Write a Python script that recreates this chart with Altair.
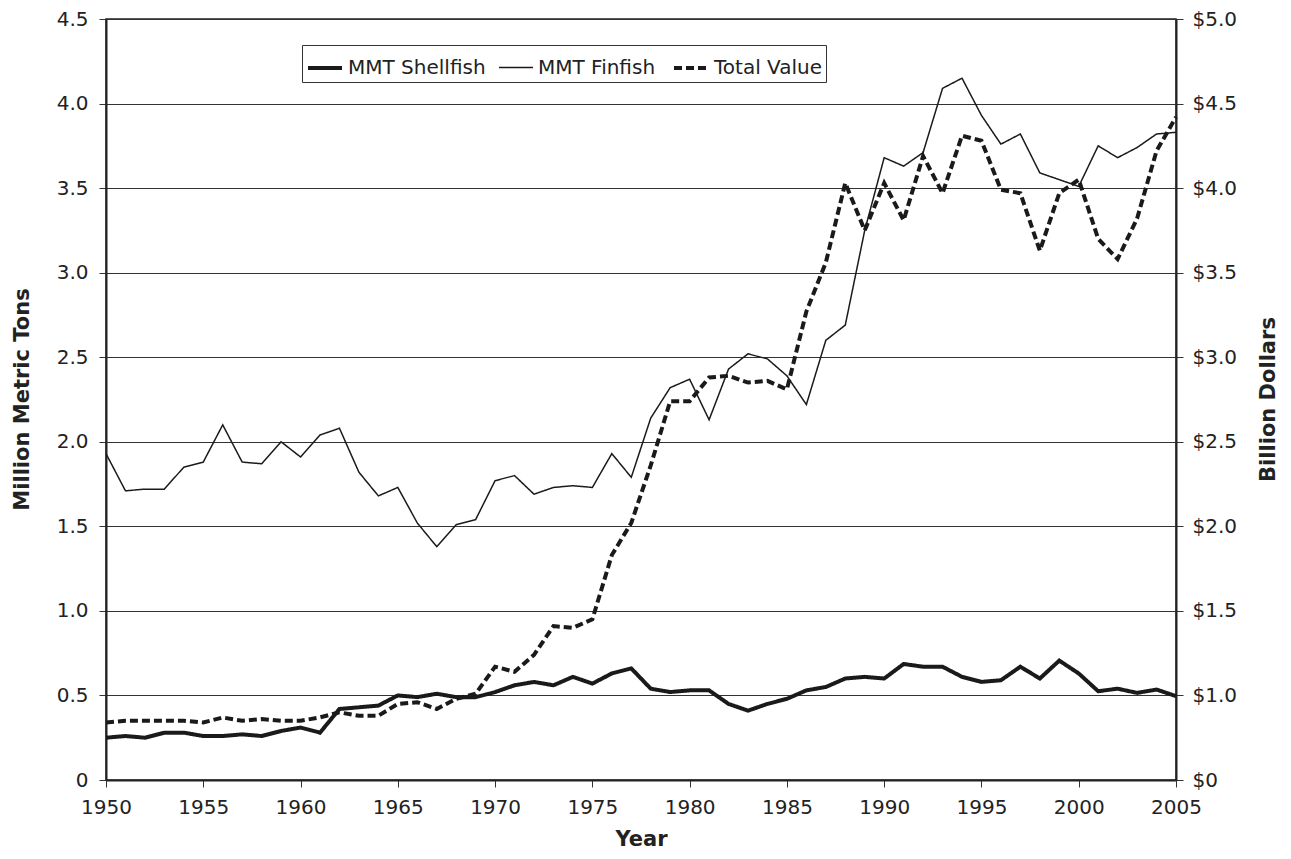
import altair as alt
import pandas as pd

years = list(range(1950, 2006))

# Million metric tons, shellfish (left axis)
shellfish = [0.25, 0.26, 0.25, 0.28, 0.28, 0.26, 0.26, 0.27, 0.26, 0.29,
             0.31, 0.28, 0.42, 0.43, 0.44, 0.50, 0.49, 0.51, 0.49, 0.49,
             0.52, 0.56, 0.58, 0.56, 0.61, 0.57, 0.63, 0.66, 0.54, 0.52,
             0.53, 0.53, 0.45, 0.41, 0.45, 0.48, 0.53, 0.55, 0.60, 0.61,
             0.60, 0.686, 0.67, 0.67, 0.61, 0.58, 0.59, 0.67, 0.60, 0.706,
             0.63, 0.525, 0.54, 0.515, 0.535, 0.496]

# Million metric tons, finfish (left axis)
finfish = [1.93, 1.71, 1.72, 1.72, 1.85, 1.88, 2.10, 1.88, 1.87, 2.00,
           1.91, 2.04, 2.08, 1.82, 1.68, 1.73, 1.52, 1.38, 1.51, 1.54,
           1.77, 1.80, 1.69, 1.73, 1.74, 1.73, 1.93, 1.79, 2.14, 2.32,
           2.37, 2.13, 2.43, 2.52, 2.49, 2.39, 2.22, 2.60, 2.69, 3.25,
           3.68, 3.63, 3.71, 4.09, 4.15, 3.93, 3.76, 3.82, 3.59, 3.55,
           3.51, 3.75, 3.68, 3.74, 3.82, 3.83]

# Total value, billion dollars (right axis)
total_value = [0.84, 0.85, 0.85, 0.85, 0.85, 0.84, 0.87, 0.85, 0.86, 0.85,
               0.85, 0.87, 0.90, 0.88, 0.88, 0.95, 0.96, 0.92, 0.98, 1.01,
               1.17, 1.14, 1.24, 1.41, 1.40, 1.45, 1.83, 2.02, 2.36, 2.74,
               2.74, 2.88, 2.89, 2.85, 2.86, 2.81, 3.27, 3.56, 4.03, 3.75,
               4.03, 3.81, 4.19, 3.97, 4.31, 4.28, 3.99, 3.97, 3.63, 3.97,
               4.05, 3.70, 3.58, 3.82, 4.22, 4.42]

series = ["MMT Shellfish", "MMT Finfish", "Total Value"]
x_ticks = list(range(1950, 2006, 5))
left_ticks = [round(i * 0.5, 1) for i in range(10)]
right_ticks = [round(0.5 + i * 0.5, 1) for i in range(10)]

df_tons = pd.DataFrame({
    "Year": years * 2,
    "Value": shellfish + finfish,
    "Series": [series[0]] * len(years) + [series[1]] * len(years),
})
df_val = pd.DataFrame({
    "Year": years,
    "Value": total_value,
    "Series": [series[2]] * len(years),
})

FONT = "DejaVu Sans"
INK = "#1a1a1a"

legend = alt.Legend(
    title=None, orient="none", legendX=196, legendY=26, direction="horizontal",
    fillColor="white", strokeColor="#333", padding=4,
    labelFont=FONT, labelFontSize=20, labelColor="#222", labelOffset=4,
    symbolType="stroke", symbolSize=1156, symbolStrokeColor=INK,
    columnPadding=10,
)
dash = alt.StrokeDash("Series:N",
                      scale=alt.Scale(type="ordinal", domain=series,
                                      range=[[1, 0], [1, 0], [8, 4]]),
                      legend=legend)
swidth = alt.StrokeWidth("Series:N",
                         scale=alt.Scale(type="ordinal", domain=series,
                                         range=[4, 1.5, 4]),
                         legend=legend)

x_enc = alt.X("Year:Q",
              scale=alt.Scale(domain=[1950, 2005], nice=False, zero=False),
              axis=alt.Axis(values=x_ticks, format="d", title="Year", grid=False,
                            labelFlush=False, labelPadding=10,
                            titleY=59, titleBaseline="middle"))

left = alt.Chart(df_tons).mark_line(color=INK, strokeJoin="miter").encode(
    x=x_enc,
    y=alt.Y("Value:Q",
            scale=alt.Scale(domain=[0, 4.5], nice=False),
            axis=alt.Axis(orient="left", values=left_ticks,
                          labelExpr="datum.value == 0 ? '0' : format(datum.value, '.1f')",
                          title="Million Metric Tons", grid=True, gridColor="#333",
                          gridWidth=1, labelPadding=11, labelFlush=False,
                          titleX=-84, titleY=380, titleBaseline="middle")),
    strokeDash=dash,
    strokeWidth=swidth,
)

right = alt.Chart(df_val).mark_line(color=INK, strokeJoin="miter").encode(
    x=x_enc,
    y=alt.Y("Value:Q",
            scale=alt.Scale(domain=[0.5, 5.0], nice=False, zero=False),
            axis=alt.Axis(orient="right", values=right_ticks,
                          labelExpr="datum.value == 0.5 ? '$0' : '$' + format(datum.value, '.1f')",
                          title="Billion Dollars", grid=False, labelPadding=9,
                          labelFlush=False,
                          titleAngle=270, titleX=92, titleY=380, titleBaseline="middle")),
    strokeDash=dash,
    strokeWidth=swidth,
)

chart = alt.layer(left, right).resolve_scale(y="independent").properties(
    width=1070, height=761,
    padding={"left": 98, "top": 11, "right": 105, "bottom": 70},
    autosize="none",
    background="white",
).configure_view(
    stroke="#222", strokeWidth=1.5,
).configure_axis(
    labelFont=FONT, labelFontSize=20, labelColor="#222",
    titleFont=FONT, titleFontSize=21, titleFontWeight="bold", titleColor="#222",
    tickColor="#333", tickSize=7, tickWidth=1,
    domainColor="#222", domainWidth=2,
)

chart.save("out.html", embed_options={"renderer": "svg", "actions": False})
